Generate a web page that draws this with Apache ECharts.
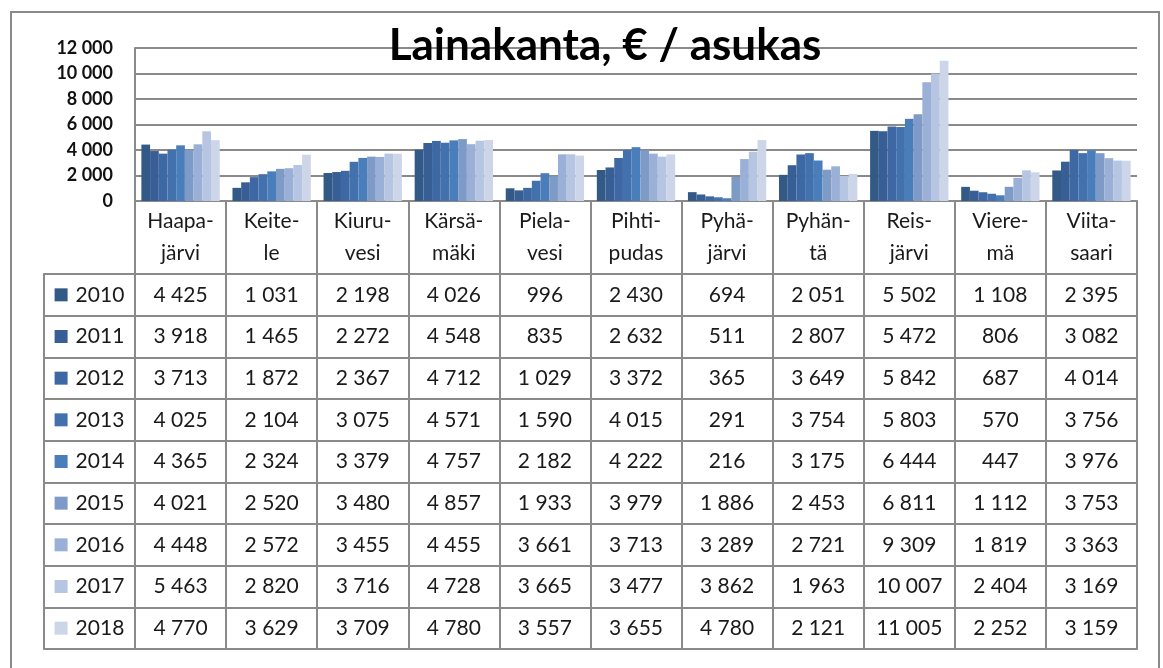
<!DOCTYPE html>
<html>
<head>
<meta charset="utf-8">
<script src="https://cdn.jsdelivr.net/npm/echarts@6/dist/echarts.min.js"></script>
<style>
  html, body { margin: 0; padding: 0; background: #fff; }
  #chart { width: 1163px; height: 668px; }
</style>
</head>
<body>
<div id="chart"></div>
<script>
  // kunnat (kategoriat) ja vuodet
  const kunnat = ['Haapa-\njärvi', 'Keite-\nle', 'Kiuru-\nvesi', 'Kärsä-\nmäki', 'Piela-\nvesi', 'Pihti-\npudas',
    'Pyhä-\njärvi', 'Pyhän-\ntä', 'Reis-\njärvi', 'Viere-\nmä', 'Viita-\nsaari']
  const vuodet = ['2010', '2011', '2012', '2013', '2014', '2015', '2016', '2017', '2018']

  const v2010 = [4425, 1031, 2198, 4026, 996, 2430, 694, 2051, 5502, 1108, 2395]
  const v2011 = [3918, 1465, 2272, 4548, 835, 2632, 511, 2807, 5472, 806, 3082]
  const v2012 = [3713, 1872, 2367, 4712, 1029, 3372, 365, 3649, 5842, 687, 4014]
  const v2013 = [4025, 2104, 3075, 4571, 1590, 4015, 291, 3754, 5803, 570, 3756]
  const v2014 = [4365, 2324, 3379, 4757, 2182, 4222, 216, 3175, 6444, 447, 3976]
  const v2015 = [4021, 2520, 3480, 4857, 1933, 3979, 1886, 2453, 6811, 1112, 3753]
  const v2016 = [4448, 2572, 3455, 4455, 3661, 3713, 3289, 2721, 9309, 1819, 3363]
  const v2017 = [5463, 2820, 3716, 4728, 3665, 3477, 3862, 1963, 10007, 2404, 3169]
  const v2018 = [4770, 3629, 3709, 4780, 3557, 3655, 4780, 2121, 11005, 2252, 3159]
  const arvot = [v2010, v2011, v2012, v2013, v2014, v2015, v2016, v2017, v2018]

  const yTicks = [0, 2000, 4000, 6000, 8000, 10000, 12000]

  const varit = ['#335a87', '#375f96', '#3d68a3', '#4371ae', '#4a7ebb', '#7e9bc8', '#9bb0d6', '#b6c5e1', '#ccd6e8']
  const viiva = '#8a8a8a'
  const fontti = 'Lato, "Open Sans", sans-serif'

  // mitat
  const plotLeft = 135
  const plotRight = 1137
  const colW = (plotRight - plotLeft) / kunnat.length
  const tableTop = 274
  const tableBottom = 649
  const rowH = (tableBottom - tableTop) / vuodet.length

  const fmt = n => String(n).replace(/\B(?=(\d{3})+(?!\d))/g, ' ')

  const chart = echarts.init(document.getElementById('chart'))

  const xAxes = [{
    gridIndex: 0,
    type: 'category',
    data: kunnat,
    axisLine: { onZero: false, lineStyle: { color: viiva, width: 2 } },
    axisTick: { show: true, interval: 0, length: tableTop - 201, lineStyle: { color: viiva, width: 2 } },
    axisLabel: {
      interval: 0, margin: 4, fontSize: 21, lineHeight: 32,
      color: '#1a1a1a', fontFamily: fontti
    }
  }, {
    // taulukon yläreuna
    gridIndex: 1,
    type: 'category',
    position: 'top',
    data: [''].concat(kunnat.map(() => '')),
    axisLine: { onZero: false, lineStyle: { color: viiva, width: 2 } },
    axisTick: { show: false },
    axisLabel: { show: false }
  }]

  vuodet.forEach((vuosi, k) => {
    const rich = {
      sq: { width: 13, height: 13, backgroundColor: varit[k] },
      yr: { fontSize: 21, color: '#1a1a1a', fontFamily: fontti, padding: [0, 0, 0, 8] }
    }
    xAxes.push({
      gridIndex: 1,
      type: 'category',
      position: 'bottom',
      offset: -(vuodet.length - 1 - k) * rowH,
      data: [vuosi].concat(arvot[k].map(fmt)),
      axisLine: { onZero: false, lineStyle: { color: viiva, width: 2 } },
      axisTick: { show: true, inside: true, interval: 0, length: rowH, lineStyle: { color: viiva, width: 2 } },
      axisLabel: {
        inside: true, interval: 0, margin: rowH / 2, verticalAlign: 'middle',
        fontSize: 21, color: '#1a1a1a', fontFamily: fontti, rich: rich,
        formatter: (v, i) => i === 0 ? '{sq|}{yr|' + v + '}' : v
      }
    })
  })

  chart.setOption({
    animation: false,
    backgroundColor: '#fff',
    grid: [
      { left: plotLeft, right: 1163 - plotRight, top: 48, height: 153 },
      { left: plotLeft - colW, right: 1163 - plotRight, top: tableTop, height: tableBottom - tableTop }
    ],
    xAxis: xAxes,
    yAxis: [{
      gridIndex: 0,
      type: 'value',
      min: yTicks[0],
      max: yTicks[yTicks.length - 1],
      interval: yTicks[1] - yTicks[0],
      axisLine: { show: true, lineStyle: { color: viiva, width: 2 } },
      axisTick: { show: false },
      splitLine: { lineStyle: { color: viiva, width: 2 } },
      axisLabel: {
        margin: 22, fontSize: 18, fontWeight: 'bold', color: '#111', fontFamily: fontti,
        formatter: v => fmt(v)
      }
    }, {
      gridIndex: 1,
      type: 'value',
      show: false
    }],
    series: vuodet.map((vuosi, k) => ({
      name: vuosi,
      type: 'bar',
      xAxisIndex: 0,
      yAxisIndex: 0,
      barGap: '0%',
      barCategoryGap: '14%',
      itemStyle: { color: varit[k] },
      data: arvot[k]
    })),
    graphic: [{
      type: 'rect',
      shape: { x: 11, y: 12, width: 1148, height: 700 },
      style: { fill: null, stroke: viiva, lineWidth: 2 },
      z: 0
    }, {
      type: 'text',
      x: 605,
      y: 46,
      style: {
        text: 'Lainakanta, € / asukas',
        textAlign: 'center',
        textVerticalAlign: 'middle',
        fontSize: 44,
        fontWeight: 'bold',
        fontFamily: fontti,
        fill: '#000'
      },
      z: 100
    }]
  })
</script>
</body>
</html>
